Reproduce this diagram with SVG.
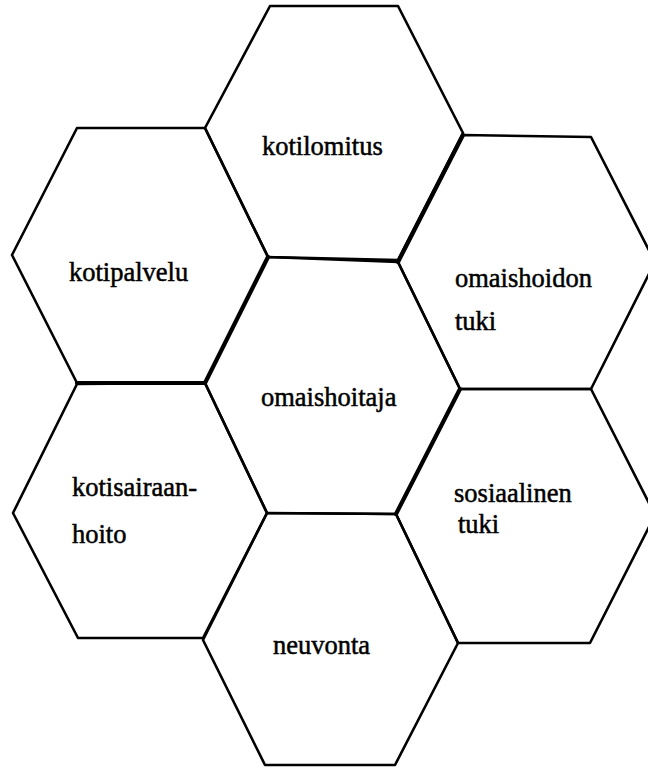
<svg xmlns="http://www.w3.org/2000/svg" width="648" height="769" viewBox="0 0 648 769">
<style>
.hex{fill:none;stroke:#000;stroke-width:2.6;stroke-linejoin:round}
.thick{stroke:#000;stroke-width:4.2;stroke-linecap:round}
.lbl{font-family:"Liberation Serif","Times New Roman",serif;font-size:26.5px;fill:#000;stroke:#000;stroke-width:0.5}
</style>
<rect width="648" height="769" fill="#fff"/>
<g id="kotilomitus">
<polygon class="hex" points="270,6 398,6 463,133 398,260 268,257 205,128"/>
<text class="lbl" x="262" y="155">kotilomitus</text>
</g>
<g id="kotipalvelu">
<polygon class="hex" points="77,128 205,128 268,257 205,383 77,383 12,255"/>
<text class="lbl" x="69" y="281">kotipalvelu</text>
</g>
<g id="omaishoidon-tuki">
<polygon class="hex" points="463,135 591,137 655,262 591,389 460,389 398,262"/>
<text class="lbl" x="455" y="287">omaishoidon</text>
<text class="lbl" x="455" y="330">tuki</text>
</g>
<g id="omaishoitaja">
<polygon class="hex" points="268,257 398,262 460,389 396,514 267,513 205,383"/>
<text class="lbl" x="261" y="406">omaishoitaja</text>
</g>
<g id="kotisairaanhoito">
<polygon class="hex" points="77,384 205,383 267,513 203,638 78,638 13,513"/>
<text class="lbl" x="72" y="496">kotisairaan-</text>
<text class="lbl" x="72" y="543">hoito</text>
</g>
<g id="sosiaalinen-tuki">
<polygon class="hex" points="460,389 591,389 655,515 590,643 458,643 396,514"/>
<text class="lbl" x="454" y="502">sosiaalinen</text>
<text class="lbl" x="458" y="533">tuki</text>
</g>
<g id="neuvonta">
<polygon class="hex" points="267,513 396,514 458,643 395,765 265,765 203,640"/>
<text class="lbl" x="273" y="654">neuvonta</text>
</g>
<g id="connectors">
<line class="thick" x1="463" y1="135" x2="398" y2="262"/>
<line class="thick" x1="268" y1="257" x2="205" y2="383"/>
<line class="thick" x1="77" y1="383" x2="205" y2="383"/>
<line class="thick" x1="460" y1="389" x2="396" y2="514"/>
</g>
</svg>
